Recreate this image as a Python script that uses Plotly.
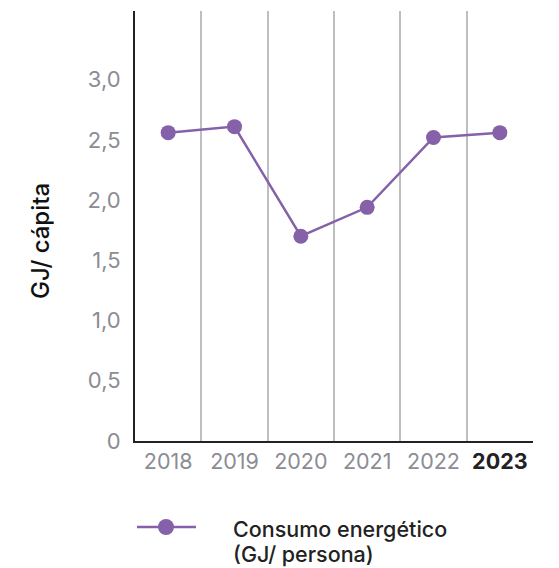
import plotly.graph_objects as go

years = ["2018", "2019", "2020", "2021", "2022", "2023"]
values = [2.56, 2.61, 1.70, 1.94, 2.52, 2.56]
ytick_vals = [0, 0.5, 1.0, 1.5, 2.0, 2.5, 3.0]
ytick_text = ["0", "0,5", "1,0", "1,5", "2,0", "2,5", "3,0"]
xtick_text = ["2018", "2019", "2020", "2021", "2022", "<span style='color:#222222'><b>2023</b></span>"]
legend_lines = ["Consumo energético", "(GJ/ persona)"]

W, H = 559, 568
L, R, T, B = 135, 26, 11, 127
pw, ph = W - L - R, H - T - B

def px(x):
    return (x - L) / pw

def py(y):
    return (H - B - y) / ph

purple = "#8461A8"
font = "Inter, Roboto, sans-serif"

fig = go.Figure()
fig.add_trace(go.Scatter(
    x=years, y=values, mode="lines+markers",
    line=dict(color=purple, width=2.5),
    marker=dict(color=purple, size=15),
    showlegend=False, hoverinfo="skip",
))

fig.update_layout(
    width=W, height=H,
    margin=dict(l=L, r=R, t=T, b=B),
    plot_bgcolor="white", paper_bgcolor="white",
    font=dict(family=font, size=22, color="#8C8C94"),
    xaxis=dict(
        type="category", range=[-0.5, 5.5],
        tickmode="array", tickvals=years, ticktext=xtick_text,
        tickson="boundaries", ticks="", showgrid=True,
        gridcolor="#BDBDC2", gridwidth=1.5,
        showline=True, linecolor="#222222", linewidth=2,
        tickfont=dict(size=21.5, color="#8C8C94"),
        zeroline=False,
    ),
    yaxis=dict(
        range=[0, 3.57], tickmode="array", tickvals=ytick_vals, ticktext=ytick_text,
        showgrid=False, zeroline=False, ticks="",
        showline=True, linecolor="#222222", linewidth=2,
        tickfont=dict(size=22, color="#8C8C94"),
        ticklabelstandoff=8,
    ),
)

# y-axis title
fig.add_annotation(
    text="GJ/ cápita", xref="paper", yref="paper",
    x=px(40), y=py(241), textangle=-90, showarrow=False,
    font=dict(size=24, color="#111111", family=font, weight=500),
    xanchor="center", yanchor="middle",
)

# manual legend
fig.add_shape(type="line", xref="paper", yref="paper",
              x0=px(137), x1=px(196), y0=py(527), y1=py(527),
              line=dict(color=purple, width=2.5))
fig.add_shape(type="circle", xref="paper", yref="paper",
              x0=px(158), x1=px(174), y0=py(535), y1=py(519),
              fillcolor=purple, line=dict(color=purple, width=0))
for txt, yc in zip(legend_lines, [529, 554]):
    fig.add_annotation(
        text=txt, xref="paper", yref="paper",
        x=px(231), y=py(yc), showarrow=False, align="left",
        xanchor="left", yanchor="middle",
        font=dict(size=21.5, color="#222222", family=font, weight=500),
    )

fig.write_html("out.html", post_script="document.body.style.margin='0';",
               config={"displayModeBar": False})
